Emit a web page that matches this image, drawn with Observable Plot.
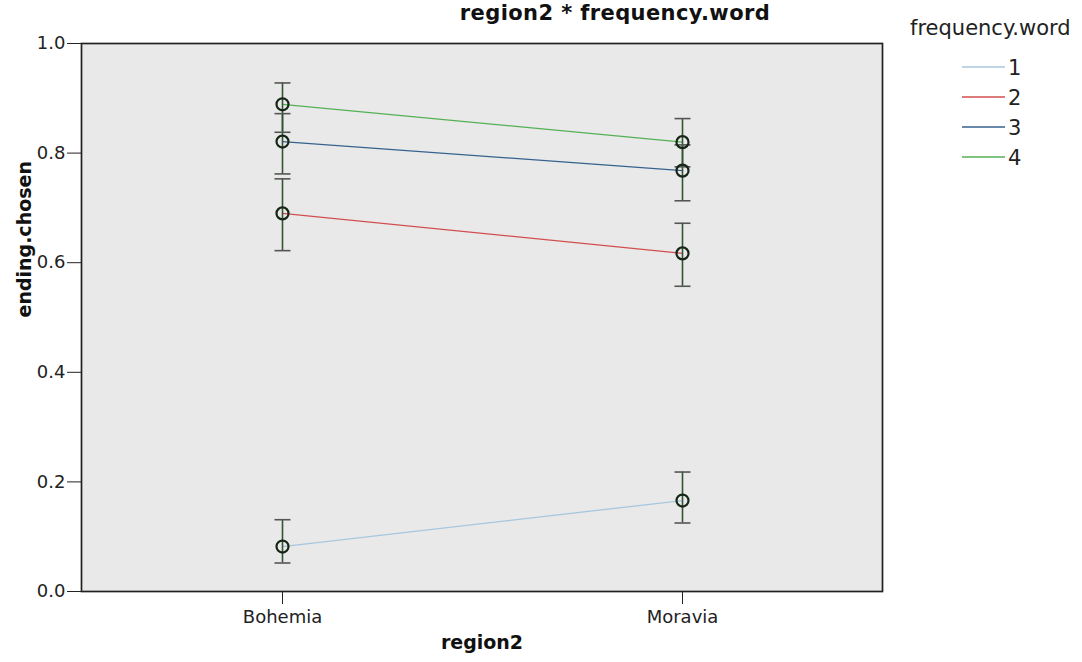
<!DOCTYPE html>
<html>
<head>
<meta charset="utf-8">
<script src="https://cdn.jsdelivr.net/npm/d3@7"></script>
<script src="https://cdn.jsdelivr.net/npm/@observablehq/plot@0.6"></script>
<style>
  html, body { margin: 0; padding: 0; background: #fff; }
  #wrap { position: relative; width: 1082px; height: 662px; font-family: "DejaVu Sans", sans-serif; }
  #title { position: absolute; left: 0; width: 1230px; top: 1px; text-align: center; font-weight: bold; font-size: 21px; line-height: 24px; color: #111; letter-spacing: 0.4px; }
  #legend { position: absolute; left: 0; top: 0; }
</style>
</head>
<body>
<div id="wrap">
  <div id="chart"></div>
  <div id="title"></div>
  <svg id="legend" width="1082" height="200"></svg>
</div>
<script>
// ---- data ----
const titleText = "region2 * frequency.word";
const xLabel = "region2";
const yLabel = "ending.chosen";
const legendTitle = "frequency.word";
const regions = ["Bohemia", "Moravia"];
const freqLevels = ["1", "2", "3", "4"];
const seriesColors = ["#a7c7df", "#d24f4f", "#36628d", "#55b055"];
const meanBohemia  = [0.082, 0.690, 0.821, 0.889];
const meanMoravia  = [0.166, 0.617, 0.768, 0.820];
const lowerBohemia = [0.052, 0.622, 0.762, 0.838];
const upperBohemia = [0.131, 0.753, 0.872, 0.928];
const lowerMoravia = [0.125, 0.557, 0.713, 0.775];
const upperMoravia = [0.218, 0.672, 0.815, 0.863];
const yTicks = [0, 0.2, 0.4, 0.6, 0.8, 1.0];

// ---- table built from the arrays ----
const rows = freqLevels.flatMap((f, i) => [
  {region: regions[0], freq: f, mean: meanBohemia[i], lo: lowerBohemia[i], hi: upperBohemia[i]},
  {region: regions[1], freq: f, mean: meanMoravia[i], lo: lowerMoravia[i], hi: upperMoravia[i]}
]);

// horizontal cap symbol for error bars
const capSymbol = {
  draw(context, size) {
    const r = Math.sqrt(size / Math.PI);
    context.moveTo(-r, 0);
    context.lineTo(r, 0);
  }
};

const errColor = "#365236";

const chart = Plot.plot({
  width: 1082,
  height: 662,
  marginLeft: 81,
  marginRight: 200,
  marginTop: 43,
  marginBottom: 71,
  style: {fontFamily: "DejaVu Sans, sans-serif", fontSize: "17px", color: "#222", background: "#fff"},
  x: {type: "point", domain: regions, padding: 0.5},
  y: {domain: [0, 1]},
  color: {domain: freqLevels, range: seriesColors},
  marks: [
    Plot.frame({fill: "#e9e9e9", stroke: "none"}),
    Plot.line(rows, {x: "region", y: "mean", z: "freq", stroke: "freq", strokeWidth: 1.3}),
    Plot.ruleX(rows, {x: "region", y1: "lo", y2: "hi", stroke: errColor, strokeWidth: 1.6}),
    Plot.dot(rows, {x: "region", y: "lo", symbol: capSymbol, r: 8, stroke: "#555", strokeWidth: 1.6, fill: "none"}),
    Plot.dot(rows, {x: "region", y: "hi", symbol: capSymbol, r: 8, stroke: "#555", strokeWidth: 1.6, fill: "none"}),
    Plot.dot(rows, {x: "region", y: "mean", r: 6, stroke: "#162616", strokeWidth: 2.2, fill: "none"}),
    Plot.frame({stroke: "#222", strokeWidth: 1.7}),
    Plot.axisY({ticks: yTicks, tickFormat: d3.format(".1f"), tickSize: 14, tickPadding: 2, label: null, fontSize: 18, fill: "#222"}),
    Plot.axisX({tickSize: 13, tickPadding: 6, label: null, fontSize: 18, fill: "#222"}),
    Plot.text([yLabel], {frameAnchor: "left", dx: -57, rotate: -90, fontWeight: "bold", fontSize: 19, fill: "#111"}),
    Plot.text([xLabel], {frameAnchor: "bottom", dy: 57, fontWeight: "bold", fontSize: 19, fill: "#111"})
  ]
});
document.getElementById("chart").appendChild(chart);
document.getElementById("title").textContent = titleText;

// ---- legend ----
const leg = d3.select("#legend").style("font-family", "DejaVu Sans, sans-serif");
leg.append("text").attr("x", 910).attr("y", 35).attr("font-size", 21).attr("fill", "#222").text(legendTitle);
const item = leg.selectAll("g.item").data(freqLevels).join("g")
  .attr("class", "item")
  .attr("transform", (d, i) => `translate(0,${67 + i * 30})`);
item.append("line").attr("x1", 962).attr("x2", 1005).attr("y1", 0).attr("y2", 0)
  .attr("stroke", (d, i) => seriesColors[i]).attr("stroke-width", 1.5);
item.append("text").attr("x", 1008).attr("y", 0).attr("dy", "0.36em")
  .attr("font-size", 21).attr("fill", "#222").text(d => d);
</script>
</body>
</html>
